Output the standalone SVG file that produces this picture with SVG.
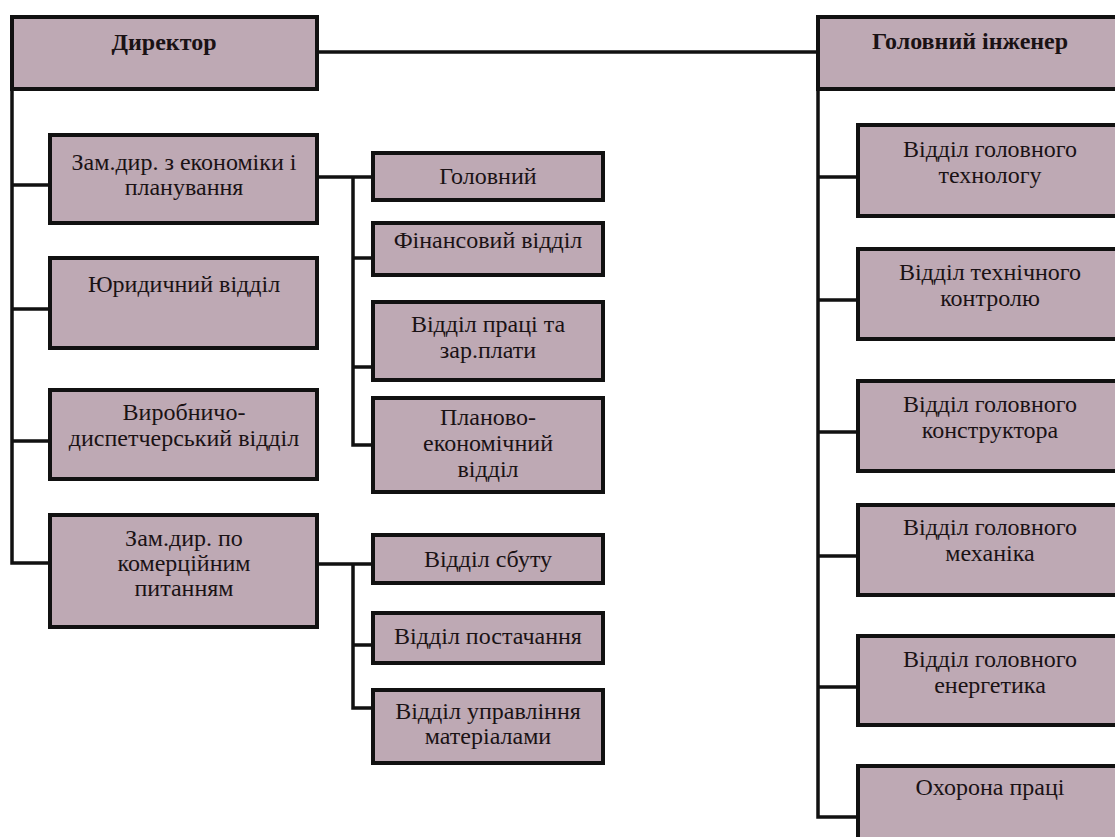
<svg xmlns="http://www.w3.org/2000/svg" width="1115" height="837" viewBox="0 0 1115 837">
  <style>
    .box { fill: #bea9b4; stroke: #111; stroke-width: 4; }
    .wire { fill: none; stroke: #111; stroke-width: 3.5; stroke-linecap: square; }
    text { font-family: "Liberation Serif", "Times New Roman", "DejaVu Serif", serif; font-size: 24px; fill: #1a1214; text-anchor: middle; }
    .head { font-weight: bold; font-size: 24px; }
  </style>
  <rect width="1115" height="837" fill="#ffffff"/>

  <!-- connectors -->
  <g id="connectors">
    <path class="wire" d="M317,52 H818"/>
    <path class="wire" d="M12,89 V563 M12,185 H50 M12,309 H50 M12,441 H50 M12,563 H50"/>
    <path class="wire" d="M317,177 H373 M353,177 V445 M353,258 H373 M353,367 H373 M353,445 H373"/>
    <path class="wire" d="M317,564 H373 M353,564 V708 M353,645 H373 M353,708 H373"/>
    <path class="wire" d="M818,89 V817 M818,177 H858 M818,300 H858 M818,432 H858 M818,556 H858 M818,687 H858 M818,817 H858"/>
  </g>

  <!-- director branch -->
  <g id="director">
    <rect class="box" x="12" y="17" width="305" height="72"/>
    <text class="head" x="164" y="50">Директор</text>
  </g>
  <g id="deputy-economics">
    <rect class="box" x="50" y="135" width="267" height="88"/>
    <text x="184" y="170">Зам.дир. з економіки і</text>
    <text x="184" y="195">планування</text>
  </g>
  <g id="legal">
    <rect class="box" x="50" y="258" width="267" height="90"/>
    <text x="184" y="292">Юридичний відділ</text>
  </g>
  <g id="dispatch">
    <rect class="box" x="50" y="390" width="267" height="89"/>
    <text x="184" y="420">Виробничо-</text>
    <text x="184" y="446">диспетчерський відділ</text>
  </g>
  <g id="deputy-commerce">
    <rect class="box" x="50" y="515" width="267" height="112"/>
    <text x="184" y="546">Зам.дир. по</text>
    <text x="184" y="571">комерційним</text>
    <text x="184" y="596">питанням</text>
  </g>

  <!-- economics departments -->
  <g id="chief">
    <rect class="box" x="373" y="153" width="230" height="47"/>
    <text x="488" y="184">Головний</text>
  </g>
  <g id="finance">
    <rect class="box" x="373" y="223" width="230" height="52"/>
    <text x="488" y="248">Фінансовий відділ</text>
  </g>
  <g id="labour">
    <rect class="box" x="373" y="302" width="230" height="78"/>
    <text x="488" y="332">Відділ праці та</text>
    <text x="488" y="358">зар.плати</text>
  </g>
  <g id="planning">
    <rect class="box" x="373" y="398" width="230" height="94"/>
    <text x="488" y="425">Планово-</text>
    <text x="488" y="451">економічний</text>
    <text x="488" y="477">відділ</text>
  </g>

  <!-- commerce departments -->
  <g id="sales">
    <rect class="box" x="373" y="535" width="230" height="48"/>
    <text x="488" y="567">Відділ сбуту</text>
  </g>
  <g id="supply">
    <rect class="box" x="373" y="613" width="230" height="50"/>
    <text x="488" y="644">Відділ постачання</text>
  </g>
  <g id="materials">
    <rect class="box" x="373" y="690" width="230" height="73"/>
    <text x="488" y="719">Відділ управління</text>
    <text x="488" y="744">матеріалами</text>
  </g>

  <!-- chief engineer branch -->
  <g id="chief-engineer">
    <rect class="box" x="818" y="17" width="320" height="72"/>
    <text class="head" x="970" y="49">Головний інженер</text>
  </g>
  <g id="technologist">
    <rect class="box" x="858" y="125" width="280" height="91"/>
    <text x="990" y="157">Відділ головного</text>
    <text x="990" y="183">технологу</text>
  </g>
  <g id="quality">
    <rect class="box" x="858" y="249" width="280" height="90"/>
    <text x="990" y="280">Відділ технічного</text>
    <text x="990" y="306">контролю</text>
  </g>
  <g id="designer">
    <rect class="box" x="858" y="381" width="280" height="90"/>
    <text x="990" y="412">Відділ головного</text>
    <text x="990" y="438">конструктора</text>
  </g>
  <g id="mechanic">
    <rect class="box" x="858" y="505" width="280" height="90"/>
    <text x="990" y="535">Відділ головного</text>
    <text x="990" y="561">механіка</text>
  </g>
  <g id="power">
    <rect class="box" x="858" y="636" width="280" height="89"/>
    <text x="990" y="667">Відділ головного</text>
    <text x="990" y="693">енергетика</text>
  </g>
  <g id="safety">
    <rect class="box" x="858" y="766" width="280" height="100"/>
    <text x="990" y="795">Охорона праці</text>
  </g>
</svg>
